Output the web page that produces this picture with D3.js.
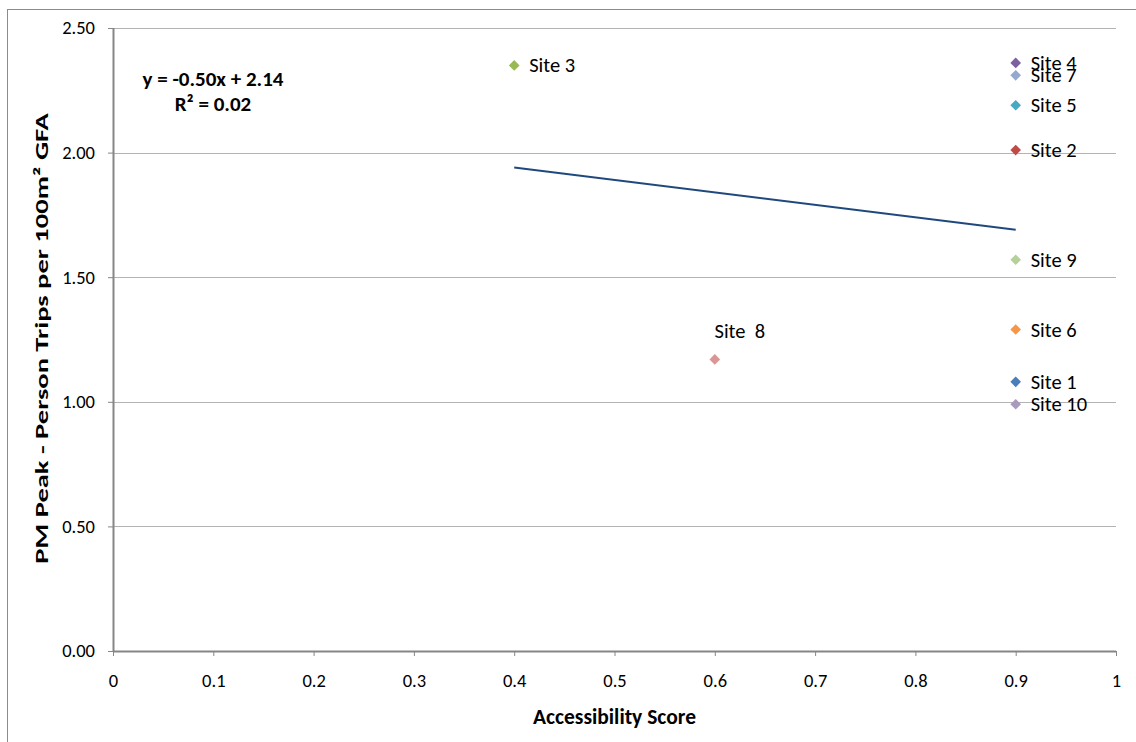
<!DOCTYPE html>
<html>
<head>
<meta charset="utf-8">
<script src="https://cdn.jsdelivr.net/npm/d3@7"></script>
<style>
  html, body { margin: 0; padding: 0; background: #fff; }
  svg { display: block; font-family: Carlito, "Liberation Sans", Arial, sans-serif; }
</style>
</head>
<body>
<svg id="chart" width="1136" height="742"></svg>
<script>
// Site accessibility vs. PM peak person trips
const sites = ["Site 1", "Site 2", "Site 3", "Site 4", "Site 5", "Site 6", "Site 7", "Site  8", "Site 9", "Site 10"];
const accessibility = [0.9, 0.9, 0.4, 0.9, 0.9, 0.9, 0.9, 0.6, 0.9, 0.9];
const pmTrips = [1.08, 2.01, 2.35, 2.36, 2.19, 1.29, 2.31, 1.17, 1.57, 0.99];
const siteColors = ["#4a7ebb", "#be4b48", "#98b954", "#7d60a0", "#46aac5", "#f79646", "#94a8d2", "#d99694", "#b5d09a", "#a99bbd"];

const xTicks = [0, 0.1, 0.2, 0.3, 0.4, 0.5, 0.6, 0.7, 0.8, 0.9, 1];
const yTicks = [0, 0.5, 1.0, 1.5, 2.0, 2.5];

// Linear trendline
const trendSlope = -0.50;
const trendIntercept = 2.14;
const trendR2 = 0.02;
const trendRange = [0.4, 0.9];

const svg = d3.select("#chart");

// chart frame
svg.append("line").attr("x1", 7).attr("y1", 9.5).attr("x2", 1136).attr("y2", 9.5)
  .attr("stroke", "#8c8c8c").attr("stroke-width", 1);
svg.append("line").attr("x1", 7.5).attr("y1", 9).attr("x2", 7.5).attr("y2", 742)
  .attr("stroke", "#8c8c8c").attr("stroke-width", 1);

const x = d3.scaleLinear().domain([0, 1]).range([113, 1116]);
const y = d3.scaleLinear().domain([0, 2.5]).range([651, 28]);

// horizontal gridlines
svg.append("g").selectAll("line").data(yTicks.filter(d => d > 0)).join("line")
  .attr("x1", x(0)).attr("x2", x(1))
  .attr("y1", d => Math.round(y(d)) + 0.5).attr("y2", d => Math.round(y(d)) + 0.5)
  .attr("stroke", "#b3b3b3").attr("stroke-width", 1);

// axes
const yAxis = svg.append("g").attr("transform", `translate(${x(0)},0)`)
  .call(d3.axisLeft(y).tickValues(yTicks).tickFormat(d => d.toFixed(2)).tickSize(5).tickPadding(13));
const xAxis = svg.append("g").attr("transform", `translate(0,${y(0)})`)
  .call(d3.axisBottom(x).tickValues(xTicks).tickFormat(d => String(d)).tickSize(5).tickPadding(18));
[yAxis, xAxis].forEach(g => {
  g.select(".domain").attr("stroke", "#868686").attr("stroke-width", 2);
  g.selectAll(".tick line").attr("stroke", "#868686");
  g.selectAll(".tick text").attr("fill", "#000").attr("font-size", 18.5)
    .attr("font-family", "Carlito, 'Liberation Sans', Arial, sans-serif");
});
xAxis.select(".domain").attr("d", `M${x(0)},0.5H${x(1)}`);
yAxis.select(".domain").attr("d", `M0.5,${y(2.5)}V${y(0)}`);

// axis titles
svg.append("text").attr("x", (x(0) + x(1)) / 2).attr("y", 724)
  .attr("text-anchor", "middle").attr("font-weight", "bold").attr("font-size", 21.5)
  .text("Accessibility Score");
svg.append("text").attr("transform", `translate(48,${(y(0) + y(2.5)) / 2 - 1}) rotate(-90) scale(1.5,1)`)
  .attr("text-anchor", "middle").attr("font-weight", "bold").attr("font-size", 19)
  .text("PM Peak - Person Trips per 100m² GFA");

// trendline
svg.append("line")
  .attr("x1", x(trendRange[0])).attr("y1", y(trendSlope * trendRange[0] + trendIntercept))
  .attr("x2", x(trendRange[1])).attr("y2", y(trendSlope * trendRange[1] + trendIntercept))
  .attr("stroke", "#1f497d").attr("stroke-width", 2);

// trendline equation
const fmt = v => v.toFixed(2);
svg.append("text").attr("x", 213).attr("y", 86).attr("text-anchor", "middle")
  .attr("font-weight", "bold").attr("font-size", 21)
  .text(`y = ${fmt(trendSlope)}x + ${fmt(trendIntercept)}`);
svg.append("text").attr("x", 213).attr("y", 111).attr("text-anchor", "middle")
  .attr("font-weight", "bold").attr("font-size", 21)
  .text(`R² = ${fmt(trendR2)}`);

// site markers
const points = sites.map((s, i) => ({ name: s, x: accessibility[i], y: pmTrips[i], color: siteColors[i] }));
const diamond = d3.symbol().type(d3.symbolDiamond2).size(72);
svg.append("g").selectAll("path").data(points).join("path")
  .attr("d", diamond)
  .attr("transform", d => `translate(${x(d.x)},${y(d.y)})`)
  .attr("fill", d => d.color);

// site labels
svg.append("g").selectAll("text").data(points).join("text")
  .attr("x", d => d.name === "Site  8" ? x(d.x) + 25 : x(d.x) + 15)
  .attr("y", d => d.name === "Site  8" ? y(d.y) - 21 : y(d.y) + 7)
  .attr("text-anchor", d => d.name === "Site  8" ? "middle" : "start")
  .attr("font-size", 20.5).attr("fill", "#000")
  .style("white-space", "pre")
  .text(d => d.name);
</script>
</body>
</html>
